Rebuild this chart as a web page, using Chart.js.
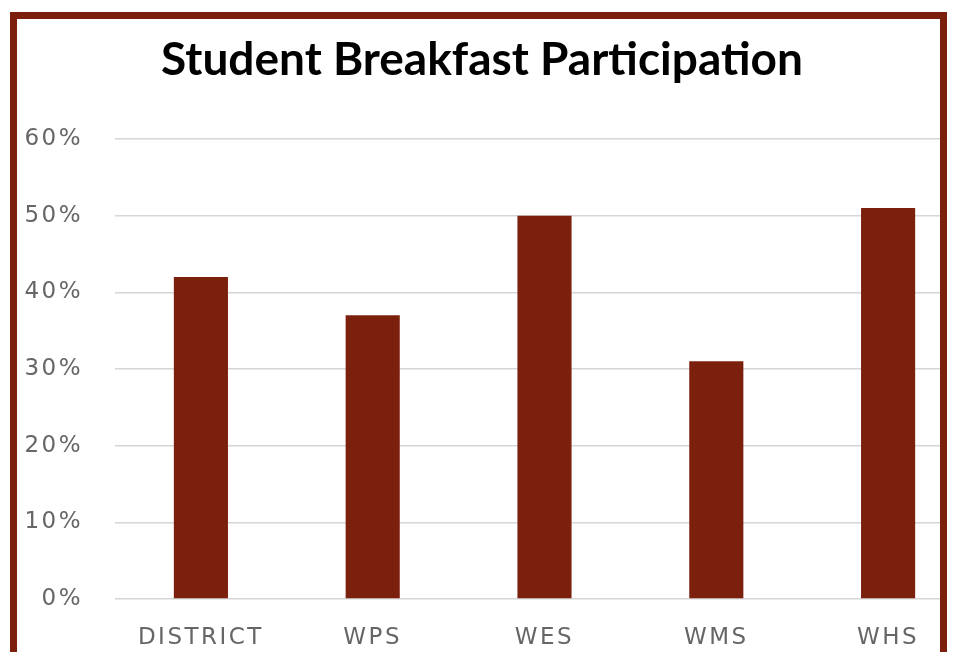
<!DOCTYPE html>
<html>
<head>
<meta charset="utf-8">
<script src="https://cdn.jsdelivr.net/npm/chart.js@4.4.1/dist/chart.umd.min.js"></script>
<style>
  html, body { margin:0; padding:0; width:959px; height:652px; overflow:hidden; background:#fff; }
  #frame { position:absolute; left:10px; top:12px; width:937px; height:720px; box-sizing:border-box;
           border:7px solid #7c1f0d; overflow:hidden; background:#fff; }
  #wrap { position:absolute; left:-17px; top:-19px; width:1000px; height:652px; }
  #title { position:absolute; left:0; top:0; width:959px; text-align:center; z-index:2;
           font-family:Lato, sans-serif; font-weight:700; font-size:46px; color:#000; }
  #titletext { position:absolute; left:482px; top:30px; transform:translateX(-50%); white-space:nowrap; }
</style>
</head>
<body>
<div id="frame"><div id="wrap"><canvas id="c" width="1000" height="652"></canvas></div></div>
<div id="title"><span id="titletext">Student Breakfast Participation</span></div>
<script>
const categories = ['DISTRICT', 'WPS', 'WES', 'WMS', 'WHS'];
const participation = [42, 37, 50, 31, 51];
const yTicks = [0, 10, 20, 30, 40, 50, 60];

const spacing = {
  id: 'spacing',
  beforeUpdate(chart) { chart.ctx.letterSpacing = '2.5px'; },
  beforeDraw(chart) { chart.ctx.letterSpacing = '2.5px'; }
};

new Chart(document.getElementById('c'), {
  type: 'bar',
  data: {
    labels: categories,
    datasets: [{
      data: participation,
      backgroundColor: '#7b200c',
      barPercentage: 0.315,
      categoryPercentage: 1
    }]
  },
  options: {
    responsive: false,
    animation: false,
    layout: { padding: { left: 0, right: 26, top: 139, bottom: 0 } },
    plugins: { legend: { display: false }, tooltip: { enabled: false }, title: { display: false } },
    scales: {
      x: {
        grid: { display: false },
        border: { display: false },
        ticks: { color: '#666666', font: { family: 'DejaVu Sans', size: 23 }, padding: 17, maxRotation: 0 },
        afterFit(s) { s.height = 53; }
      },
      y: {
        min: 0, max: 60,
        afterBuildTicks(s) { s.ticks = yTicks.map(v => ({ value: v })); },
        grid: { color: '#d6d6d6', lineWidth: 1.5, drawTicks: false },
        border: { display: false },
        ticks: { color: '#666666', font: { family: 'DejaVu Sans', size: 23 }, padding: 32,
                 callback: v => v + '%' },
        afterFit(s) { s.width = 115; }
      }
    }
  },
  plugins: [spacing]
});
</script>
</body>
</html>
